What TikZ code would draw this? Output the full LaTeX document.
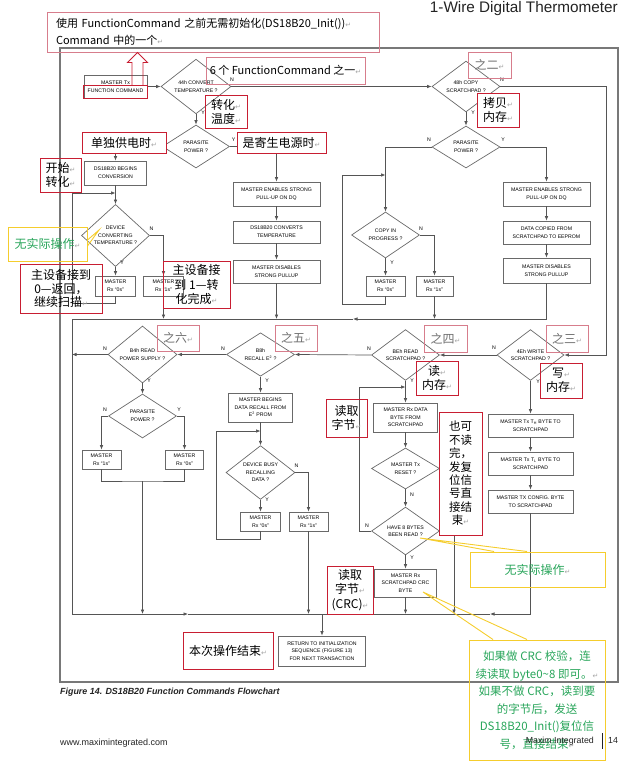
\documentclass[tikz,border=0pt]{standalone}
\usepackage{fontspec}
\setmainfont{Liberation Sans}
\newfontfamily\cjk{Noto Sans CJK SC}
\newfontfamily\marksfont{DejaVu Sans}
\usetikzlibrary{shapes.geometric,arrows.meta}
\definecolor{linegray}{RGB}{85,85,85}
\definecolor{boxgray}{RGB}{105,105,105}
\definecolor{framegray}{RGB}{120,120,120}
\definecolor{notered}{RGB}{200,30,50}
\definecolor{notepink}{RGB}{215,125,140}
\definecolor{noteyellow}{RGB}{245,205,45}
\definecolor{notegreen}{RGB}{40,165,90}
\definecolor{markgray}{RGB}{165,165,165}
\definecolor{zhigray}{RGB}{110,110,110}
\definecolor{titlegray}{RGB}{35,35,35}
\newcommand\flowfont{\fontsize{5.2}{7.6}\selectfont}
\newcommand\retmark{{\color{markgray}\marksfont\fontsize{7}{7}\selectfont ↵}}
\tikzset{
  link/.style={draw=linegray, line width=0.7pt},
  arr/.style={link, -{Latex[length=4.5pt,width=3.6pt]}},
  flowbox/.style={draw=boxgray, line width=0.7pt, font=\flowfont, align=center, inner sep=0pt},
  decision/.style={diamond, draw=boxgray, line width=0.7pt, font=\flowfont, align=center, inner sep=0pt},
  yn/.style={font=\flowfont, inner sep=0pt},
  redbox/.style={draw=notered, line width=1pt, align=center, inner sep=0pt, font=\cjk\fontsize{12}{14}\selectfont},
  pinkbox/.style={redbox, draw=notepink, line width=0.7pt},
  yellowbox/.style={draw=noteyellow, line width=1pt, align=center, inner sep=0pt, text=notegreen, font=\cjk\fontsize{11.5}{17.5}\selectfont},
  callout/.style={draw=noteyellow, line width=0.9pt}
}
\begin{document}
\begin{tikzpicture}[x=1pt,y=-1pt]
  \useasboundingbox (0,0) rectangle (638,768);
  \draw[framegray, line width=1.3pt] (60,48) rectangle (618,682);
  \node[font=\fontsize{15.3}{16}\selectfont, text=titlegray, anchor=base east, inner sep=0pt] (title) at (618,13) {1-Wire Digital Thermometer};

  \node[flowbox, minimum width=63pt, minimum height=23pt] (master) at (115.5,86.5) {MASTER Tx\\FUNCTION COMMAND};
  \node[decision, minimum width=70pt, minimum height=45pt] (conv) at (196,86.5) {44h CONVERT\\TEMPERATURE ?};
  \node[decision, minimum width=67pt, minimum height=43pt] (para1) at (196,146.5) {PARASITE\\POWER ?};
  \node[flowbox, minimum width=62pt, minimum height=24pt] (begin) at (115.5,173) {DS18B20 BEGINS\\CONVERSION};
  \node[decision, minimum width=68pt, minimum height=47pt] (devconv) at (115.5,235.5) {DEVICE\\CONVERTING\\TEMPERATURE ?};
  \node[flowbox, minimum width=40pt, minimum height=20pt] (rx0a) at (115.5,286) {MASTER\\Rx “0s”};
  \node[flowbox, minimum width=40pt, minimum height=20pt] (rx1a) at (163.5,286) {MASTER\\Rx “1s”};
  \node[flowbox, minimum width=87pt, minimum height=24pt] (enpu1) at (276.5,194) {MASTER ENABLES STRONG\\PULL-UP ON DQ};
  \node[flowbox, minimum width=87pt, minimum height=22pt] (convs) at (276.5,232) {DS18B20 CONVERTS\\TEMPERATURE};
  \node[flowbox, minimum width=87pt, minimum height=23pt] (dis1) at (276.5,271.5) {MASTER DISABLES\\STRONG PULLUP};

  \node[decision, minimum width=68pt, minimum height=43pt] (copy) at (466,86.5) {48h COPY\\SCRATCHPAD ?};
  \node[decision, minimum width=68pt, minimum height=42pt] (para3) at (466,147) {PARASITE\\POWER ?};
  \node[decision, minimum width=68pt, minimum height=46pt] (cpin) at (385.5,235) {COPY IN\\PROGRESS ?};
  \node[flowbox, minimum width=39pt, minimum height=20pt] (rx0b) at (385.5,286) {MASTER\\Rx “0s”};
  \node[flowbox, minimum width=37pt, minimum height=20pt] (rx1b) at (434.5,286) {MASTER\\Rx “1s”};
  \node[flowbox, minimum width=87pt, minimum height=24pt] (enpu2) at (546.5,194) {MASTER ENABLES STRONG\\PULL-UP ON DQ};
  \node[flowbox, minimum width=87pt, minimum height=23pt] (copied) at (546.5,232.5) {DATA COPIED FROM\\SCRATCHPAD TO EEPROM};
  \node[flowbox, minimum width=87pt, minimum height=25pt] (dis2) at (546.5,270.5) {MASTER DISABLES\\STRONG PULLUP};

  \node[decision, minimum width=69pt, minimum height=42pt] (rdps) at (142.5,354.5) {B4h READ\\POWER SUPPLY ?};
  \node[decision, minimum width=68pt, minimum height=42pt] (recall) at (260.5,354.5) {B8h\\RECALL E\textsuperscript{2} ?};
  \node[decision, minimum width=68pt, minimum height=44pt] (rdsp) at (405.5,355) {BEh READ\\SCRATCHPAD ?};
  \node[decision, minimum width=67pt, minimum height=44pt] (wrsp) at (530.5,355) {4Eh WRITE\\SCRATCHPAD ?};

  \node[decision, minimum width=68pt, minimum height=44pt] (para2) at (142.5,416) {PARASITE\\POWER ?};
  \node[flowbox, minimum width=39pt, minimum height=19pt] (rx1c) at (101.5,459.5) {MASTER\\Rx “1s”};
  \node[flowbox, minimum width=38pt, minimum height=19pt] (rx0c) at (184.5,459.5) {MASTER\\Rx “0s”};

  \node[flowbox, minimum width=64pt, minimum height=29pt] (recbeg) at (260.5,407.5) {MASTER BEGINS\\DATA RECALL FROM\\E\textsuperscript{2} PROM};
  \node[decision, minimum width=69pt, minimum height=49pt] (busy) at (260.5,472.5) {DEVICE BUSY\\RECALLING\\DATA ?};
  \node[flowbox, minimum width=40pt, minimum height=19pt] (rx0d) at (260.5,521.5) {MASTER\\Rx “0s”};
  \node[flowbox, minimum width=39pt, minimum height=19pt] (rx1d) at (308.5,521.5) {MASTER\\Rx “1s”};

  \node[flowbox, minimum width=64pt, minimum height=29pt] (rxdata) at (405.5,417.5) {MASTER Rx DATA\\BYTE FROM\\SCRATCHPAD};
  \node[decision, minimum width=68pt, minimum height=41pt] (reset) at (405.5,468.5) {MASTER Tx\\RESET ?};
  \node[decision, minimum width=68pt, minimum height=44pt] (have8) at (405.5,531) {HAVE 8 BYTES\\BEEN READ ?};
  \node[flowbox, minimum width=62pt, minimum height=28pt] (crc) at (405.5,583) {MASTER Rx\\SCRATCHPAD CRC\\BYTE};

  \node[flowbox, minimum width=85pt, minimum height=23pt] (th) at (530.5,425.5) {MASTER Tx T\textsubscript{H} BYTE TO\\SCRATCHPAD};
  \node[flowbox, minimum width=85pt, minimum height=23pt] (tl) at (530.5,463.5) {MASTER Tx T\textsubscript{L} BYTE TO\\SCRATCHPAD};
  \node[flowbox, minimum width=85pt, minimum height=23pt] (cfg) at (530.5,501.5) {MASTER TX CONFIG. BYTE\\TO SCRATCHPAD};
  \node[flowbox, minimum width=87pt, minimum height=30pt] (return) at (322,651) {RETURN TO INITIALIZATION\\SEQUENCE (FIGURE 13)\\FOR NEXT TRANSACTION};

  \coordinate (m1r) at (546.5,319);
  \coordinate (m1l) at (72,319);
  \coordinate (a1) at (353,319);
  \coordinate (m2l) at (72,614);
  \coordinate (m2r) at (530.5,614);
  \coordinate (a2) at (188,614);
  \coordinate (a3) at (490,614);
  \coordinate (ret) at (322,614);
  \coordinate (rt) at (606,0);
  \coordinate (rsx) at (454,614);
  \coordinate (j1) at (142.5,481);
  \coordinate (loopa) at (72,193);
  \coordinate (loopb) at (342,175);
  \coordinate (loopc) at (216,431);
  \coordinate (loopd) at (359,387);

  \draw[arr] (master.east) -- (conv.west);
  \draw[arr] (conv.east) -- (copy.west);
  \draw[arr] (conv.south) -- (para1.north);
  \draw[arr] (para1.west) -| (begin.north);
  \draw[arr] (para1.east) -| (enpu1.north);
  \draw[arr] (enpu1) -- (convs);
  \draw[arr] (convs) -- (dis1);
  \draw[arr] (dis1.south) -- (dis1.south |- m1l);
  \draw[arr] (begin.south) -- (devconv.north);
  \draw[arr] (devconv.south) -- (rx0a.north);
  \draw[arr] (devconv.east) -| (rx1a.north);
  \draw[arr] (rx1a.south) -- (rx1a.south |- m1l);
  \draw[arr] (rx0a.south) -- ++(0,7) -| (loopa) -- (loopa -| devconv.north);

  \draw[arr] (copy.south) -- (para3.north);
  \draw[arr] (para3.west) -| (cpin.north);
  \draw[arr] (para3.east) -| (enpu2.north);
  \draw[arr] (enpu2) -- (copied);
  \draw[arr] (copied) -- (dis2);
  \draw[arr] (cpin.south) -- (rx0b.north);
  \draw[arr] (cpin.east) -| (rx1b.north);
  \draw[arr] (rx1b.south) -- (rx1b.south |- m1l);
  \draw[arr] (rx0b.south) -- ++(0,8) -| (loopb) -- (loopb -| cpin.north);
  \draw[link] (dis2.south) -- (m1r);
  \draw[arr] (m1r) -- (a1);
  \draw[arr] (a1) -- (m1l) -- (m2l) -- (a2);
  \draw[link] (a2) -- (a3);
  \draw[arr] (cfg.south) -- (m2r) -- (a3);
  \draw[arr] (ret) -- (return.north);

  \draw[arr] (copy.east) -- (copy.east -| rt) -- (wrsp.east -| rt) -- (wrsp.east);
  \draw[arr] (wrsp.west) -- (rdsp.east);
  \draw[arr] (rdsp.west) -- (recall.east);
  \draw[arr] (recall.west) -- (rdps.east);
  \draw[arr] (rdps.west) -- (rdps.west -| m1l);

  \draw[arr] (rdps.south) -- (para2.north);
  \draw[arr] (para2.west) -| (rx1c.north);
  \draw[arr] (para2.east) -| (rx0c.north);
  \draw[link] (rx1c.south) |- (j1) -| (rx0c.south);
  \draw[arr] (j1) -- (j1 |- m2l);

  \draw[arr] (recall.south) -- (recbeg.north);
  \draw[arr] (recbeg.south) -- (busy.north);
  \draw[arr] (busy.south) -- (rx0d.north);
  \draw[arr] (busy.east) -| (rx1d.north);
  \draw[arr] (rx0d.south) -- ++(0,8) -| (loopc) -- (loopc -| busy.north);
  \draw[arr] (rx1d.south) -- (rx1d.south |- m2l);

  \draw[arr] (rdsp.south) -- (rxdata.north);
  \draw[arr] (rxdata.south) -- (reset.north);
  \draw[arr] (reset.south) -- (have8.north);
  \draw[arr] (reset.east) -| (rsx);
  \draw[arr] (have8.west) -| (loopd) -- (loopd -| rdsp.south);
  \draw[arr] (have8.south) -- (crc.north);
  \draw[arr] (crc.south) -- (crc.south |- m2l);

  \draw[arr] (wrsp.south) -- (th.north);
  \draw[arr] (th) -- (tl);
  \draw[arr] (tl) -- (cfg);

  \foreach \nm/\x/\y/\t in {convN/232/80/N, convY/203/113/Y, para1Y/233.5/139.5/Y,
      devN/151.5/229/N, devY/122/263/Y, copyN/502/80/N, copyY/473/113/Y,
      para3N/429/140/N, para3Y/503/140/Y, cpinN/421/229/N, cpinY/392/263/Y,
      rdpsN/105/349/N, rdpsY/149/381/Y, para2N/105/410/N, para2Y/179/410/Y,
      recallN/223/349/N, recallY/267/381/Y, busyN/296.5/466/N, busyY/267/500/Y,
      rdspN/369/349/N, rdspY/412/381/Y, resetY/444/463/Y, resetN/412/495/N,
      have8N/367/526/N, have8Y/412/558/Y, wrspN/494/348/N, wrspY/538/382/Y}
    \node[yn] (\nm) at (\x,\y) {\t};

  \node[pinkbox, minimum width=332pt, minimum height=40pt, align=left, text width=314pt, font=\cjk\fontsize{11}{17}\selectfont] (note1) at (213,32) {\mbox{使用 FunctionCommand 之前无需初始化(DS18B20\_Init())\retmark}\\\mbox{Command 中的一个\retmark}};
  \draw[notered, line width=0.9pt] (132,85) -- (132,62.5) -- (127.5,62.5) -- (137.5,52.5) -- (147.5,62.5) -- (143,62.5) -- (143,85);
  \draw[notered, line width=0.9pt] (master.south west) rectangle (master.east |- 0,85);
  \node[pinkbox, minimum width=159pt, minimum height=27pt, font=\cjk\fontsize{11}{13}\selectfont] (six) at (285.5,70.5) {6 个 FunctionCommand 之一\retmark};
  \node[redbox, minimum width=42pt, minimum height=33pt] (zhuanhua) at (226,111.5) {转化\retmark\\温度\retmark};
  \node[redbox, fill=white, minimum width=84pt, minimum height=21pt] (dandu) at (124,142.5) {单独供电时\retmark};
  \node[redbox, fill=white, minimum width=89pt, minimum height=21pt] (jisheng) at (281.5,142.5) {是寄生电源时\retmark};
  \node[redbox, minimum width=41pt, minimum height=34pt] (kaishi) at (60.5,175) {开始\retmark\\转化\retmark};
  \node[yellowbox, font=\cjk\fontsize{12}{14}\selectfont, minimum width=79pt, minimum height=34pt] (wushi1) at (47.5,244) {无实际操作\retmark};
  \node[redbox, font=\cjk\fontsize{12}{13.5}\selectfont, minimum width=82pt, minimum height=49pt] (zhu0) at (61,288.5) {主设备接到\\0—返回，\\继续扫描\retmark};
  \node[redbox, font=\cjk\fontsize{12}{14.5}\selectfont, minimum width=67pt, minimum height=47pt] (zhu1) at (196.5,284.5) {主设备接\\到 1—转\\化完成\retmark};
  \node[pinkbox, text=zhigray, minimum width=43pt, minimum height=26pt] (zhier) at (489.5,65) {之二\retmark};
  \node[redbox, fill=white, minimum width=42pt, minimum height=34pt] (kaobei) at (498,110) {拷贝\retmark\\内存\retmark};
  \node[pinkbox, text=zhigray, minimum width=42pt, minimum height=26pt] (zhiliu) at (178,338) {之六\retmark};
  \node[pinkbox, text=zhigray, minimum width=42pt, minimum height=26pt] (zhiwu) at (296,338) {之五\retmark};
  \node[pinkbox, text=zhigray, minimum width=43pt, minimum height=27pt] (zhisi) at (445.5,338.5) {之四\retmark};
  \node[pinkbox, text=zhigray, minimum width=42pt, minimum height=27pt] (zhisan) at (567,338.5) {之三\retmark};
  \node[redbox, minimum width=42pt, minimum height=34pt] (du) at (437,378) {读\retmark\\内存\retmark};
  \node[redbox, minimum width=42pt, minimum height=35pt] (xie) at (561,380.5) {写\retmark\\内存\retmark};
  \node[redbox, minimum width=41pt, minimum height=38pt] (duqu) at (346.5,418) {读取\\字节\retmark};
  \node[redbox, fill=white, font=\cjk\fontsize{11.5}{13.4}\selectfont, minimum width=43pt, minimum height=123pt] (yeke) at (460.5,473.5) {也可\\不读\\完，\\发复\\位信\\号直\\接结\\束\retmark};
  \node[redbox, font=\cjk\fontsize{12}{14.5}\selectfont, minimum width=46pt, minimum height=48pt] (duqucrc) at (350,590) {读取\\字节\retmark\\(CRC)\retmark};
  \node[redbox, minimum width=90pt, minimum height=37pt] (jieshu) at (228,650.5) {本次操作结束\retmark};
  \node[yellowbox, font=\cjk\fontsize{12}{14}\selectfont, minimum width=135pt, minimum height=35pt] (wushi2) at (537.5,569.5) {无实际操作\retmark};
  \node[yellowbox, minimum width=136pt, minimum height=120pt] (crcnote) at (537,700) {如果做 CRC 校验，连\\续读取 byte0\textasciitilde8 即可。\retmark\\如果不做 CRC，读到要\\的字节后，发送\\DS18B20\_Init()复位信\\号，直接结束\retmark};

  \coordinate (tipa) at (99,230);
  \coordinate (tipb) at (420,538);
  \coordinate (tipc) at (423,592);
  \draw[callout] ([yshift=4pt]wushi1.east) -- (tipa) -- ([yshift=-2pt]wushi1.east);
  \draw[callout] ([xshift=-43.5pt]wushi2.north) -- (tipb) -- ([xshift=-10.5pt]wushi2.north);
  \draw[callout] ([xshift=-44pt]crcnote.north) -- (tipc) -- ([xshift=-10pt]crcnote.north);

  \node[font=\bfseries\itshape\fontsize{8.9}{10}\selectfont, text=titlegray, anchor=base west, inner sep=0pt] (caption) at (60,694) {Figure 14. DS18B20 Function Commands Flowchart};
  \node[font=\fontsize{9}{10}\selectfont, text=titlegray, anchor=base west, inner sep=0pt] (web) at (60,745) {www.maximintegrated.com};
  \node[font=\fontsize{8.8}{10}\selectfont, text=titlegray, anchor=base east, inner sep=0pt] (maxim) at (594,743) {Maxim Integrated};
  \node[font=\fontsize{8.8}{10}\selectfont, text=titlegray, anchor=base west, inner sep=0pt] (page) at (608,743) {14};
  \draw[titlegray, line width=0.6pt] (602,733) -- (602,749);
\end{tikzpicture}
\end{document}
